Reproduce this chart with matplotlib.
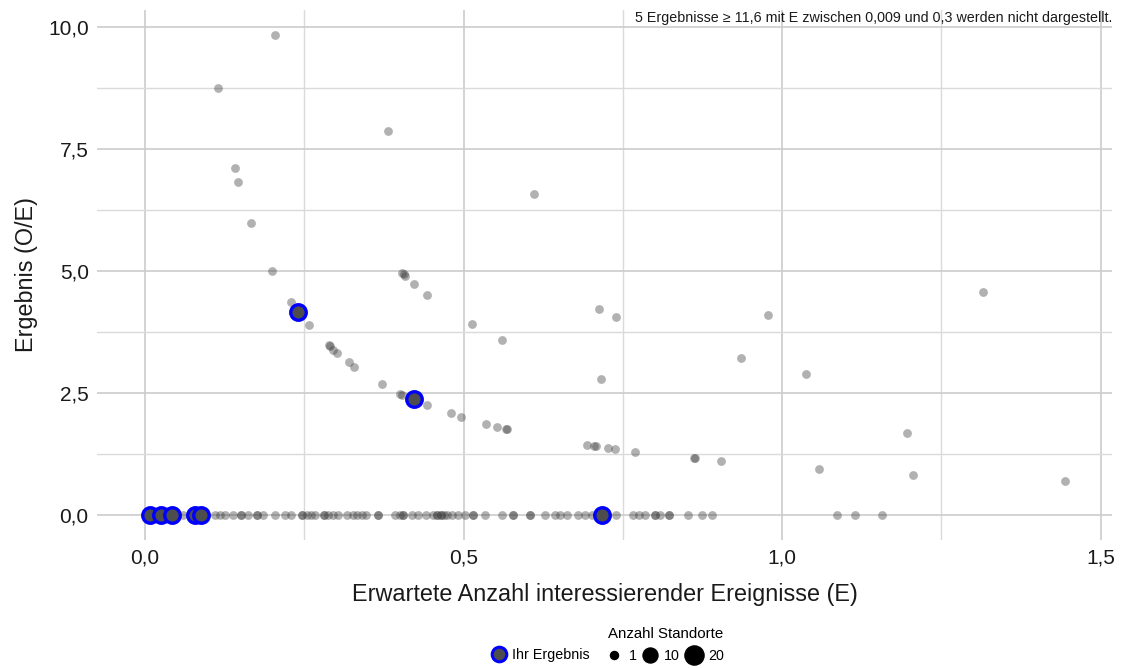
import matplotlib
matplotlib.use('Agg')
import matplotlib.pyplot as plt
from matplotlib.lines import Line2D

plt.rcParams['font.family'] = ['Liberation Sans', 'DejaVu Sans']

# Standorte mit O/E = 0 (Erwartungswert E)
zero_e = [0.060, 0.110, 0.118, 0.126, 0.138, 0.151, 0.151, 0.162, 0.176, 0.176,
          0.185, 0.204, 0.220, 0.229, 0.246, 0.246, 0.254, 0.261, 0.267, 0.281,
          0.281, 0.287, 0.295, 0.303, 0.317, 0.327, 0.333, 0.341, 0.347, 0.366,
          0.366, 0.392, 0.400, 0.405, 0.405, 0.419, 0.429, 0.441, 0.452, 0.458,
          0.458, 0.465, 0.465, 0.469, 0.474, 0.482, 0.491, 0.502, 0.515, 0.515,
          0.534, 0.560, 0.578, 0.578, 0.604, 0.604, 0.628, 0.644, 0.651, 0.662,
          0.680, 0.691, 0.702, 0.711, 0.739, 0.766, 0.776, 0.785, 0.801, 0.801,
          0.808, 0.823, 0.823, 0.852, 0.874, 0.890, 1.086, 1.115, 1.157]

# Standorte mit O/E > 0
pos_e = [0.204, 0.115, 0.381, 0.141, 0.146, 0.166, 0.611, 0.200, 0.403, 0.406,
         0.408, 0.422, 0.443, 0.229, 0.257, 0.513, 0.713, 0.739, 0.978, 1.316,
         0.288, 0.290, 0.295, 0.301, 0.320, 0.328, 0.560, 0.372, 0.400, 0.403,
         0.443, 0.480, 0.496, 0.936, 1.038, 0.716, 0.535, 0.552, 0.566, 0.568,
         0.694, 0.704, 0.708, 0.727, 0.738, 0.769, 0.861, 0.863, 0.904, 1.196,
         1.058, 1.205, 1.444]
pos_oe = [9.84, 8.75, 7.87, 7.11, 6.82, 5.98, 6.58, 5.00, 4.96, 4.94,
          4.90, 4.73, 4.51, 4.36, 3.90, 3.91, 4.22, 4.06, 4.10, 4.57,
          3.48, 3.46, 3.38, 3.32, 3.13, 3.04, 3.59, 2.69, 2.49, 2.47,
          2.26, 2.09, 2.01, 3.22, 2.89, 2.79, 1.87, 1.80, 1.77, 1.76,
          1.44, 1.42, 1.41, 1.37, 1.35, 1.30, 1.17, 1.16, 1.11, 1.68,
          0.94, 0.82, 0.70]

# Ihr Ergebnis
own_e = [0.008, 0.025, 0.043, 0.078, 0.088, 0.717, 0.240, 0.422]
own_oe = [0.0, 0.0, 0.0, 0.0, 0.0, 0.0, 4.16, 2.38]

x_ticks = [0.0, 0.5, 1.0, 1.5]
x_labels = ['0,0', '0,5', '1,0', '1,5']
y_ticks = [0.0, 2.5, 5.0, 7.5, 10.0]
y_labels = ['0,0', '2,5', '5,0', '7,5', '10,0']
size_levels = [1, 10, 20]

W, H = 1125, 668
fig = plt.figure(figsize=(W / 100, H / 100), dpi=100)
ax = fig.add_axes([97 / W, 1 - 540 / H, (1112 - 97) / W, 530 / H])

ax.set_xlim(-0.0755, 1.518)
ax.set_ylim(-0.51, 10.35)

ax.set_xticks(x_ticks)
ax.set_xticklabels(x_labels)
ax.set_yticks(y_ticks)
ax.set_yticklabels(y_labels)
ax.set_xticks([0.25, 0.75, 1.25], minor=True)
ax.set_yticks([1.25, 3.75, 6.25, 8.75], minor=True)
ax.tick_params(which='both', length=0)
ax.tick_params(axis='both', labelsize=15, colors='#1a1a1a', pad=6)
ax.grid(which='major', color='#cccccc', linewidth=1.2)
ax.grid(which='minor', color='#dadada', linewidth=1.0)
ax.set_axisbelow(True)
for s in ax.spines.values():
    s.set_visible(False)

gray_col = '#3c3c3c'
ax.scatter(zero_e, [0.0] * len(zero_e), s=40, color=gray_col, alpha=0.4,
           linewidths=0, zorder=3)
ax.scatter(pos_e, pos_oe, s=40, color=gray_col, alpha=0.4, linewidths=0, zorder=3)
ax.scatter(own_e, own_oe, s=125, facecolor='#4d4d4d', edgecolor='#0000ff',
           linewidths=2.4, zorder=4)

ax.set_xlabel('Erwartete Anzahl interessierender Ereignisse (E)', fontsize=16.8,
              color='#1a1a1a', labelpad=11)
ax.set_ylabel('Ergebnis (O/E)', fontsize=16.8, color='#1a1a1a', labelpad=7)

fig.text(1112 / W, 1 - 18 / H,
         '5 Ergebnisse \u2265 11,6 mit E zwischen 0,009 und 0,3 werden nicht dargestellt.',
         ha='right', va='center', fontsize=10.3, color='#1a1a1a')

# Legende 1: Ihr Ergebnis
h_own = Line2D([], [], marker='o', linestyle='none', markersize=10.5,
               markerfacecolor='#4d4d4d', markeredgecolor='#0000ff', markeredgewidth=2.2)
leg1 = fig.legend([h_own], ['Ihr Ergebnis'], loc='center left',
                  bbox_to_anchor=(490 / W, 1 - 655 / H), frameon=False,
                  fontsize=10.3, handlelength=1.2, handletextpad=0.35,
                  borderpad=0, borderaxespad=0)

# Legende 2: Anzahl Standorte
ms = {1: 5.8, 10: 10.8, 20: 13.8}
h_sizes = [Line2D([], [], marker='o', linestyle='none', markersize=ms[v],
                  color='black') for v in size_levels]
leg2 = fig.legend(h_sizes, [str(v) for v in size_levels], loc='center left',
                  bbox_to_anchor=(607 / W, 1 - 645 / H), frameon=False,
                  fontsize=10.3, ncol=3, handlelength=1.0, handletextpad=0.5,
                  columnspacing=0.45, borderpad=0, borderaxespad=0,
                  title='Anzahl Standorte', title_fontsize=10.8)

fig.savefig('out.png', dpi=100)
